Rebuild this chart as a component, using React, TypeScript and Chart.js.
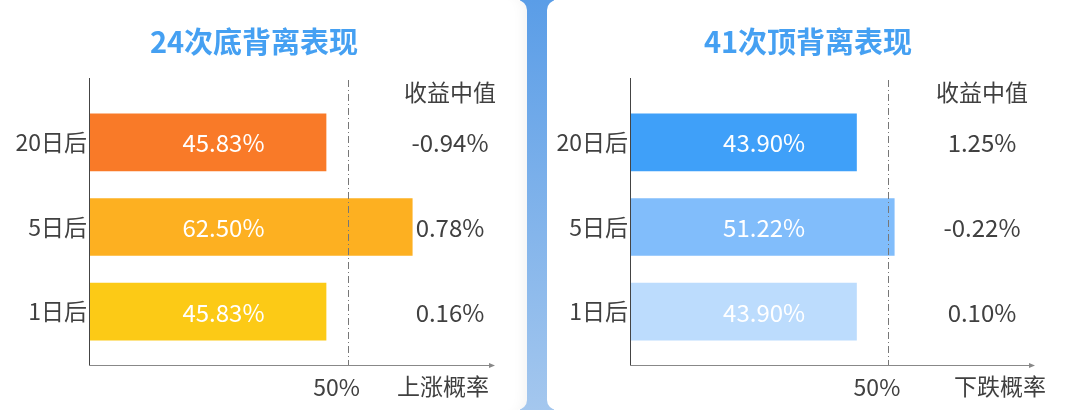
import React, { useEffect, useRef } from "react";
import { Chart, registerables } from "chart.js";

Chart.register(...registerables);

// data
const categories = ["20日后", "5日后", "1日后"];
const bottomProb = [45.83, 62.5, 45.83];
const bottomMedian = [-0.94, 0.78, 0.16];
const topProb = [43.9, 51.22, 43.9];
const topMedian = [1.25, -0.22, 0.1];
const bottomColors = ["#f97a28", "#fdb021", "#fcca16"];
const topColors = ["#3fa0f9", "#81bdfb", "#bcdcfd"];
const xMax = 78.5;
const threshold = 50;
const thresholdLabel = "50%";

const FONT = "'Noto Sans CJK SC', 'Noto Sans', sans-serif";
const TEXT = "#404040";
const AXIS_Y = 365;

type Layout = {
  width: number;
  left: number;
  right: number;
  titleX: number;
  medianX: number;
  axisLabelX: number;
};

interface PanelProps {
  title: string;
  values: number[];
  medians: number[];
  colors: string[];
  axisLabel: string;
  layout: Layout;
}

const Panel: React.FC<PanelProps> = ({ title, values, medians, colors, axisLabel, layout }) => {
  const chartRef = useRef<HTMLCanvasElement>(null);

  useEffect(() => {
    let chartInstance: Chart | null = null;
    if (chartRef.current) {
      const decor = {
        id: "decor",
        afterDatasetsDraw(chart: any) {
          const ctx = chart.ctx;
          const { left, right } = chart.chartArea;
          const xs = chart.scales.x;
          const ys = chart.scales.y;
          ctx.save();

          // title
          ctx.fillStyle = "#45a0f2";
          ctx.font = "bold 29px " + FONT;
          ctx.textAlign = "center";
          ctx.textBaseline = "middle";
          ctx.fillText(title, layout.titleX, 42);

          // axes
          ctx.strokeStyle = "#444";
          ctx.lineWidth = 1;
          ctx.beginPath();
          ctx.moveTo(left + 0.5, 78);
          ctx.lineTo(left + 0.5, AXIS_Y);
          ctx.stroke();
          ctx.strokeStyle = "#888";
          ctx.beginPath();
          ctx.moveTo(left, AXIS_Y + 0.5);
          ctx.lineTo(right - 4, AXIS_Y + 0.5);
          ctx.stroke();
          ctx.fillStyle = "#888";
          ctx.beginPath();
          ctx.moveTo(right, AXIS_Y + 0.5);
          ctx.lineTo(right - 6, AXIS_Y - 2);
          ctx.lineTo(right - 6, AXIS_Y + 3);
          ctx.closePath();
          ctx.fill();

          // 50% dash-dot line
          const x50 = Math.round(xs.getPixelForValue(threshold)) + 0.5;
          ctx.strokeStyle = "#777";
          ctx.setLineDash([7, 3, 1, 3]);
          ctx.beginPath();
          ctx.moveTo(x50, 80);
          ctx.lineTo(x50, AXIS_Y);
          ctx.stroke();
          ctx.setLineDash([]);

          // bar value labels
          ctx.font = "24px " + FONT;
          ctx.textAlign = "center";
          ctx.textBaseline = "middle";
          values.forEach((v, i) => {
            ctx.fillStyle = "#ffffff";
            ctx.fillText(v.toFixed(2) + "%", xs.getPixelForValue(26), ys.getPixelForValue(i) + 1);
          });

          // median column
          ctx.fillStyle = TEXT;
          ctx.font = "23px " + FONT;
          ctx.fillText("收益中值", layout.medianX, 92);
          ctx.font = "24px " + FONT;
          medians.forEach((m, i) => {
            ctx.fillText(m.toFixed(2) + "%", layout.medianX, ys.getPixelForValue(i) + 1);
          });

          // axis name
          ctx.font = "23px " + FONT;
          ctx.fillText(axisLabel, layout.axisLabelX, 386);
          ctx.restore();
        },
      };

      chartInstance = new Chart(chartRef.current, {
        type: "bar",
        data: {
          labels: categories,
          datasets: [
            {
              data: values,
              backgroundColor: colors,
              borderWidth: 0,
              barThickness: 57,
            },
          ],
        },
        options: {
          indexAxis: "y",
          responsive: false,
          animation: false,
          layout: {
            padding: { top: 100, left: 0, right: layout.width - layout.right, bottom: 0 },
          },
          plugins: {
            legend: { display: false },
            tooltip: { enabled: false },
          },
          scales: {
            x: {
              type: "linear",
              min: 0,
              max: xMax,
              grid: { display: false, drawTicks: false },
              border: { display: false },
              afterBuildTicks: (scale: any) => {
                scale.ticks = [{ value: threshold }];
              },
              afterFit: (scale: any) => {
                scale.height = 410 - 354;
              },
              ticks: {
                padding: 19,
                labelOffset: -11,
                color: TEXT,
                font: { family: FONT, size: 23 },
                callback: () => thresholdLabel,
              },
            },
            y: {
              grid: { display: false, drawTicks: false },
              border: { display: false },
              afterFit: (scale: any) => {
                scale.width = layout.left;
              },
              ticks: {
                padding: 2,
                color: TEXT,
                font: { family: FONT, size: 23 },
              },
            },
          },
        },
        plugins: [decor],
      });
    }
    return () => {
      if (chartInstance) {
        chartInstance.destroy();
      }
    };
  }, [title, values, medians, colors, axisLabel, layout]);

  return <canvas ref={chartRef} width={layout.width} height={410} style={{ display: "block" }} />;
};

const leftLayout: Layout = { width: 527, left: 89, right: 495, titleX: 254, medianX: 450, axisLabelX: 443 };
const rightLayout: Layout = { width: 533, left: 83, right: 488, titleX: 261, medianX: 435, axisLabelX: 453 };

export default function App() {
  return (
    <div style={{ position: "absolute", left: 0, top: 0, width: 1080, height: 410, background: "#fff", overflow: "hidden" }}>
      <div
        style={{
          position: "absolute",
          left: 520,
          top: 0,
          width: 34,
          height: 410,
          background: "linear-gradient(#5a9de7, #a4c7ee)",
        }}
      />
      <div
        style={{
          position: "absolute",
          left: 0,
          top: 0,
          width: 527,
          height: 410,
          background: "#fff",
          borderRadius: "0 10px 10px 0",
          boxShadow: "inset -14px 0 14px -12px rgba(0,0,0,0.06)",
        }}
      >
        <Panel
          title="24次底背离表现"
          values={bottomProb}
          medians={bottomMedian}
          colors={bottomColors}
          axisLabel="上涨概率"
          layout={leftLayout}
        />
      </div>
      <div
        style={{
          position: "absolute",
          left: 547,
          top: 0,
          width: 533,
          height: 410,
          background: "#fff",
          borderRadius: "10px 0 0 10px",
        }}
      >
        <Panel
          title="41次顶背离表现"
          values={topProb}
          medians={topMedian}
          colors={topColors}
          axisLabel="下跌概率"
          layout={rightLayout}
        />
      </div>
    </div>
  );
}
